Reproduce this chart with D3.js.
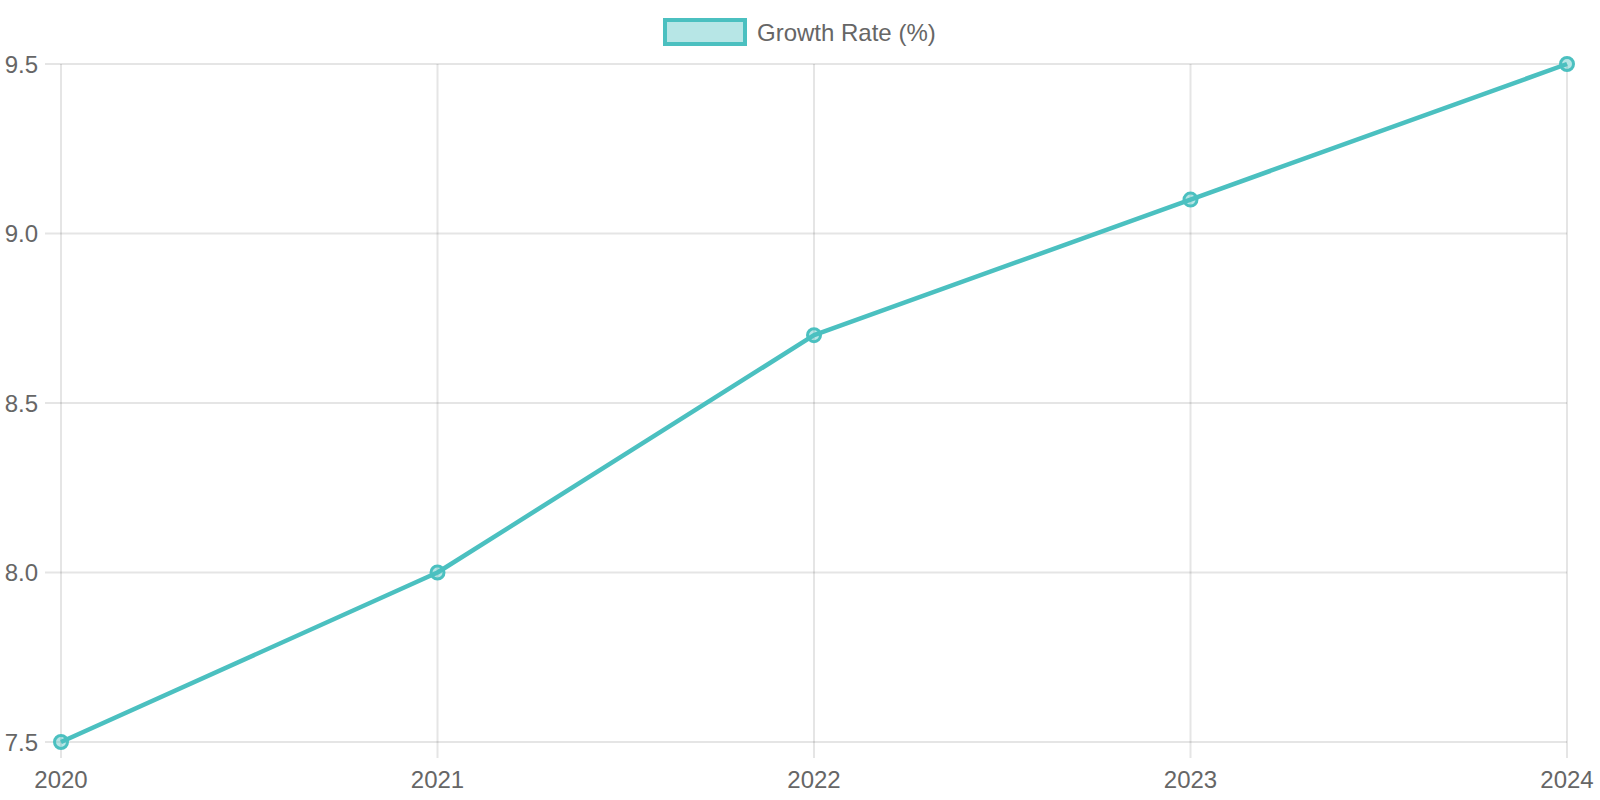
<!DOCTYPE html>
<html>
<head>
<meta charset="utf-8">
<script src="https://cdn.jsdelivr.net/npm/d3@7"></script>
<style>
  html, body { margin: 0; padding: 0; background: #fff; }
  svg { display: block; font-family: "Liberation Sans", Arial, Helvetica, sans-serif; }
</style>
</head>
<body>
<div id="chart"></div>
<script>
'use strict';

// data ---------------------
const years       = ['2020', '2021', '2022', '2023', '2024']
const growthRate  = [7.5, 8.0, 8.7, 9.1, 9.5]
const yTicks      = [7.5, 8.0, 8.5, 9.0, 9.5]
const seriesLabel = 'Growth Rate (%)'

// layout / style ---------------------
const width      = 1600
const height     = 800
const padleft    = 61
const padright   = 1567
const padtop     = 64
const padbottom  = 742
const tickLen    = 16
const line_color = 'rgb(75,192,192)'
const fill_color = 'rgba(75,192,192,0.4)'
const grid_color = 'rgba(0,0,0,0.1)'
const text_color = '#666'

var svg = d3.select('#chart').append('svg')
    .attr('width', width)
    .attr('height', height)

var x = d3.scalePoint().domain(years).range([padleft, padright])
var y = d3.scaleLinear().domain([7.5, 9.5]).range([padbottom, padtop])

// grid lines
svg.append('g').selectAll('line')
    .data(yTicks).enter().append('line')
    .attr('x1', padleft - tickLen).attr('x2', padright)
    .attr('y1', d => y(d)).attr('y2', d => y(d))
    .attr('stroke', grid_color).attr('stroke-width', 2)

svg.append('g').selectAll('line')
    .data(years).enter().append('line')
    .attr('x1', d => x(d)).attr('x2', d => x(d))
    .attr('y1', padtop).attr('y2', padbottom + tickLen)
    .attr('stroke', grid_color).attr('stroke-width', 2)

// y tick labels
svg.append('g').selectAll('text')
    .data(yTicks).enter().append('text')
    .attr('x', 38).attr('y', d => y(d))
    .attr('text-anchor', 'end').attr('dominant-baseline', 'central')
    .attr('font-size', 24).attr('fill', text_color)
    .text(d => d3.format('.1f')(d))

// x tick labels
svg.append('g').selectAll('text')
    .data(years).enter().append('text')
    .attr('x', d => x(d)).attr('y', 788)
    .attr('text-anchor', 'middle')
    .attr('font-size', 24).attr('fill', text_color)
    .text(d => d)

// line
var line = d3.line()
    .x((d, i) => x(years[i]))
    .y(d => y(d))

svg.append('path')
    .datum(growthRate)
    .attr('d', line)
    .attr('fill', 'none')
    .attr('stroke', line_color)
    .attr('stroke-width', 4.5)
    .attr('stroke-linejoin', 'round')

// points
svg.append('g').selectAll('circle')
    .data(growthRate).enter().append('circle')
    .attr('cx', (d, i) => x(years[i]))
    .attr('cy', d => y(d))
    .attr('r', 6.5)
    .attr('fill', fill_color)
    .attr('stroke', line_color)
    .attr('stroke-width', 3)

// legend
var legend = svg.append('g')
legend.append('rect')
    .attr('x', 665).attr('y', 20)
    .attr('width', 80).attr('height', 24)
    .attr('fill', fill_color)
    .attr('stroke', line_color)
    .attr('stroke-width', 4)
legend.append('text')
    .attr('x', 757).attr('y', 32)
    .attr('dominant-baseline', 'central')
    .attr('font-size', 24).attr('fill', text_color)
    .text(seriesLabel)
</script>
</body>
</html>
